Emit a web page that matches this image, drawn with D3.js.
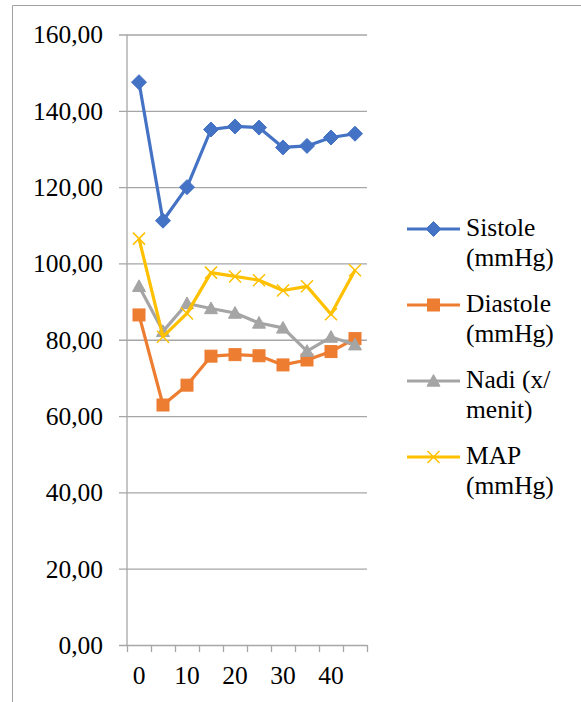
<!DOCTYPE html>
<html>
<head>
<meta charset="utf-8">
<script src="https://cdn.jsdelivr.net/npm/d3@7/dist/d3.min.js"></script>
<style>
  html, body { margin: 0; padding: 0; background: #fff; }
  svg { display: block; }
</style>
</head>
<body>
<svg id="chart" width="581" height="702"></svg>
<script>
const categories = [0, 5, 10, 15, 20, 25, 30, 35, 40, 45];
const xTickLabels = [0, 10, 20, 30, 40];
const yTicks = [0, 20, 40, 60, 80, 100, 120, 140, 160];

const sistole  = [147.5, 111.2, 120.0, 135.1, 135.9, 135.6, 130.4, 130.8, 133.0, 134.0];
const diastole = [86.5, 62.9, 68.1, 75.7, 76.1, 75.8, 73.4, 74.7, 76.9, 80.3];
const nadi     = [94.0, 82.2, 89.5, 88.2, 87.0, 84.4, 83.1, 77.0, 80.7, 78.7];
const map      = [106.5, 80.8, 86.9, 97.6, 96.6, 95.6, 92.9, 94.0, 86.7, 98.2];

const seriesNames = [["Sistole", "(mmHg)"], ["Diastole", "(mmHg)"], ["Nadi (x/", "menit)"], ["MAP", "(mmHg)"]];
const seriesColors = ["#4472C4", "#ED7D31", "#A5A5A5", "#FFC000"];
const seriesMarkers = ["diamond", "square", "triangle", "cross"];
const seriesData = [sistole, diastole, nadi, map];

const FONT = "'Liberation Serif', 'DejaVu Serif', serif";
const FS = 25.5;

const svg = d3.select("#chart");
const pLeft = 127, pRight = 367, pTop = 34.5, pBottom = 645;

// chart border
svg.append("path")
  .attr("d", `M12.5,702 L12.5,5.5 L581,5.5`)
  .attr("fill", "none").attr("stroke", "#a0a0a0").attr("stroke-width", 1);

const x = d3.scaleBand().domain(categories).range([pLeft, pRight]).padding(0);
const xEdge = d3.scaleLinear().domain([0, categories.length]).range([pLeft, pRight]);
const y = d3.scaleLinear().domain([0, 160]).range([pBottom, pTop]);

const gridColor = "#a6a6a6";
// gridlines + y labels
const yAxis = d3.axisLeft(y).tickValues(yTicks)
  .tickSize(-(pRight - pLeft + 8)).tickPadding(16)
  .tickFormat(d => d3.format(".2f")(d).replace(".", ","));
const gy = svg.append("g").attr("transform", `translate(${pLeft - 8},0)`).call(yAxis)
  .attr("font-family", FONT).attr("font-size", FS);
gy.select(".domain").remove();
gy.selectAll(".tick line").attr("stroke", gridColor).attr("stroke-width", 1.3);
gy.selectAll(".tick text").attr("dy", "0.33em").attr("x", -16).attr("fill", "#000");

// vertical axis line
svg.append("line").attr("x1", pLeft).attr("x2", pLeft).attr("y1", pTop).attr("y2", pBottom)
  .attr("stroke", gridColor).attr("stroke-width", 1.3);

// x axis tick marks at band edges
const xAxisTicks = d3.axisBottom(xEdge).tickValues(d3.range(0, categories.length + 1))
  .tickSize(7).tickFormat("");
const gx = svg.append("g").attr("transform", `translate(0,${pBottom})`).call(xAxisTicks);
gx.select(".domain").remove();
gx.selectAll(".tick line").attr("stroke", gridColor).attr("stroke-width", 1.3);

// x labels
const xLabAxis = d3.axisBottom(x).tickSize(0).tickPadding(0)
  .tickFormat(d => xTickLabels.includes(d) ? String(d) : "");
const gxl = svg.append("g").attr("transform", `translate(0,${pBottom})`).call(xLabAxis)
  .attr("font-family", FONT).attr("font-size", FS);
gxl.select(".domain").remove();
gxl.selectAll(".tick text").attr("y", 39).attr("dy", "0").attr("fill", "#000");

// markers
function drawMarker(g, type, color, cx, cy) {
  if (type === "diamond") {
    const s = 7.5;
    g.append("path").attr("d", `M${cx},${cy - s} L${cx + s},${cy} L${cx},${cy + s} L${cx - s},${cy} Z`)
      .attr("fill", color).attr("stroke", color).attr("stroke-width", 1);
  } else if (type === "square") {
    const s = 6;
    g.append("rect").attr("x", cx - s).attr("y", cy - s).attr("width", 2 * s).attr("height", 2 * s)
      .attr("fill", color).attr("stroke", color).attr("stroke-width", 1);
  } else if (type === "triangle") {
    const s = 6.5;
    g.append("path").attr("d", `M${cx},${cy - s} L${cx + s},${cy + s * 0.8} L${cx - s},${cy + s * 0.8} Z`)
      .attr("fill", color).attr("stroke", color).attr("stroke-width", 1);
  } else if (type === "cross") {
    const s = 6;
    g.append("path").attr("d", `M${cx - s},${cy - s} L${cx + s},${cy + s} M${cx - s},${cy + s} L${cx + s},${cy - s}`)
      .attr("stroke", color).attr("stroke-width", 1.5).attr("fill", "none");
  }
}

const line = d3.line().x((d, i) => x(categories[i]) + x.bandwidth() / 2).y(d => y(d));

seriesData.forEach((vals, si) => {
  const g = svg.append("g");
  g.append("path").datum(vals).attr("d", line)
    .attr("fill", "none").attr("stroke", seriesColors[si]).attr("stroke-width", 3.2)
    .attr("stroke-linejoin", "round");
  vals.forEach((v, i) => drawMarker(g, seriesMarkers[si], seriesColors[si],
    x(categories[i]) + x.bandwidth() / 2, y(v)));
});

// legend
const legY0 = 229, legStep = 76, lineH = 30;
seriesNames.forEach((names, si) => {
  const ly = legY0 + si * legStep;
  const g = svg.append("g");
  g.append("line").attr("x1", 407).attr("x2", 460).attr("y1", ly).attr("y2", ly)
    .attr("stroke", seriesColors[si]).attr("stroke-width", 3.2);
  drawMarker(g, seriesMarkers[si], seriesColors[si], 433.5, ly);
  names.forEach((t, li) => {
    g.append("text").attr("x", 466).attr("y", ly + 7 + li * lineH)
      .attr("font-family", FONT).attr("font-size", FS).attr("fill", "#000").text(t);
  });
});
</script>
</body>
</html>
